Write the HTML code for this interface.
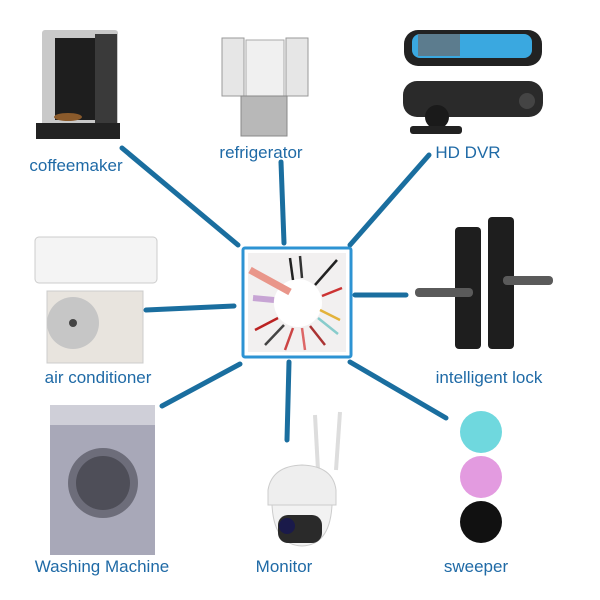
<!DOCTYPE html>
<html><head><meta charset="utf-8"><style>
html,body{margin:0;padding:0;background:#fff;}
svg{display:block}
text{font-family:"Liberation Sans",sans-serif;font-size:17px;fill:#1f6aa6;}
</style></head><body>
<svg width="600" height="600" viewBox="0 0 600 600" xmlns="http://www.w3.org/2000/svg">
<rect width="600" height="600" fill="#fff"/>
<!-- connectors -->
<g stroke="#1a6e9f" stroke-width="5" stroke-linecap="round">
<line x1="122" y1="148" x2="238" y2="245"/>
<line x1="281" y1="162" x2="284" y2="243"/>
<line x1="429" y1="155" x2="350" y2="245"/>
<line x1="146" y1="310" x2="234" y2="306"/>
<line x1="355" y1="295" x2="406" y2="295"/>
<line x1="162" y1="406" x2="240" y2="364"/>
<line x1="289" y1="362" x2="287" y2="440"/>
<line x1="350" y1="362" x2="446" y2="418"/>
</g>
<!-- center box -->
<rect x="243" y="248" width="108" height="109" fill="#fff" stroke="#2d93d3" stroke-width="3" rx="2"/>
<rect x="248" y="253" width="98" height="99" fill="#f2f0f0"/>
<circle cx="298" cy="303" r="24" fill="#fff"/>
<g stroke-width="2.5">
<line x1="250" y1="270" x2="290" y2="292" stroke="#e9968a" stroke-width="7"/>
<line x1="253" y1="298" x2="274" y2="300" stroke="#c7a4d4" stroke-width="6"/>
<line x1="290" y1="258" x2="293" y2="280" stroke="#222"/>
<line x1="300" y1="256" x2="302" y2="278" stroke="#333"/>
<line x1="337" y1="260" x2="315" y2="285" stroke="#222"/>
<line x1="342" y1="288" x2="322" y2="296" stroke="#c33"/>
<line x1="340" y1="320" x2="320" y2="310" stroke="#e3b23a"/>
<line x1="338" y1="334" x2="318" y2="318" stroke="#8cc"/>
<line x1="255" y1="330" x2="278" y2="318" stroke="#b22"/>
<line x1="265" y1="345" x2="284" y2="325" stroke="#444"/>
<line x1="285" y1="350" x2="293" y2="328" stroke="#c44"/>
<line x1="305" y1="350" x2="302" y2="328" stroke="#d66"/>
<line x1="325" y1="345" x2="310" y2="326" stroke="#a33"/>
</g>
<!-- coffeemaker -->
<rect x="42" y="30" width="76" height="100" rx="3" fill="#c9c9c9"/>
<rect x="55" y="38" width="40" height="82" fill="#1e1e1e"/>
<rect x="95" y="34" width="22" height="96" fill="#3a3a3a"/>
<rect x="36" y="123" width="84" height="16" fill="#222"/>
<ellipse cx="68" cy="117" rx="14" ry="4" fill="#8a5a2b"/>
<!-- refrigerator -->
<rect x="222" y="38" width="22" height="58" fill="#e6e6e6" stroke="#999"/>
<rect x="246" y="40" width="38" height="56" fill="#f0f0f0" stroke="#aaa"/>
<rect x="286" y="38" width="22" height="58" fill="#e6e6e6" stroke="#999"/>
<rect x="241" y="96" width="46" height="40" fill="#b8b8b8" stroke="#888"/>
<!-- HD DVR -->
<rect x="404" y="30" width="138" height="36" rx="14" fill="#222"/>
<rect x="412" y="34" width="120" height="24" rx="8" fill="#3aa8e0"/>
<rect x="418" y="34" width="42" height="22" fill="#5c7c8e"/>
<rect x="403" y="81" width="140" height="36" rx="14" fill="#2a2a2a"/>
<circle cx="437" cy="117" r="12" fill="#1a1a1a"/>
<rect x="410" y="126" width="52" height="8" rx="3" fill="#222"/>
<circle cx="527" cy="101" r="8" fill="#444"/>
<!-- AC -->
<rect x="35" y="237" width="122" height="46" rx="4" fill="#f4f4f4" stroke="#ccc"/>
<rect x="47" y="291" width="96" height="72" fill="#e8e4de" stroke="#ccc"/>
<circle cx="73" cy="323" r="26" fill="#c6c6c6"/>
<circle cx="73" cy="323" r="4" fill="#444"/>
<!-- lock -->
<rect x="455" y="227" width="26" height="122" rx="4" fill="#1e1e1e"/>
<rect x="488" y="217" width="26" height="132" rx="4" fill="#1e1e1e"/>
<rect x="415" y="288" width="58" height="9" rx="4" fill="#5a5a5a"/>
<rect x="503" y="276" width="50" height="9" rx="4" fill="#5a5a5a"/>
<!-- washer -->
<rect x="50" y="405" width="105" height="150" fill="#a8a8b8"/>
<rect x="50" y="405" width="105" height="20" fill="#cfcfd8"/>
<circle cx="103" cy="483" r="35" fill="#6d6d7a"/>
<circle cx="103" cy="483" r="27" fill="#4e4e58"/>
<!-- monitor -->
<line x1="315" y1="415" x2="318" y2="470" stroke="#ddd" stroke-width="4"/>
<line x1="340" y1="412" x2="336" y2="470" stroke="#ddd" stroke-width="4"/>
<path d="M268 490 Q272 466 302 465 Q333 466 336 490 L336 505 L268 505Z" fill="#eee" stroke="#ccc"/>
<path d="M272 505 L332 505 Q330 545 302 546 Q274 545 272 505Z" fill="#f2f2f2" stroke="#ccc"/>
<rect x="278" y="515" width="44" height="28" rx="10" fill="#2a2a2a"/>
<circle cx="287" cy="526" r="8" fill="#1a1a4a"/>
<!-- sweeper -->
<circle cx="481" cy="432" r="21" fill="#6fd8de"/>
<circle cx="481" cy="477" r="21" fill="#e39be0"/>
<circle cx="481" cy="522" r="21" fill="#111"/>
<!-- labels -->
<text x="76" y="171" text-anchor="middle">coffeemaker</text>
<text x="261" y="158" text-anchor="middle">refrigerator</text>
<text x="468" y="158" text-anchor="middle">HD DVR</text>
<text x="98" y="383" text-anchor="middle">air conditioner</text>
<text x="489" y="383" text-anchor="middle">intelligent lock</text>
<text x="102" y="572" text-anchor="middle">Washing Machine</text>
<text x="284" y="572" text-anchor="middle">Monitor</text>
<text x="476" y="572" text-anchor="middle">sweeper</text>
</svg>
</body></html>
